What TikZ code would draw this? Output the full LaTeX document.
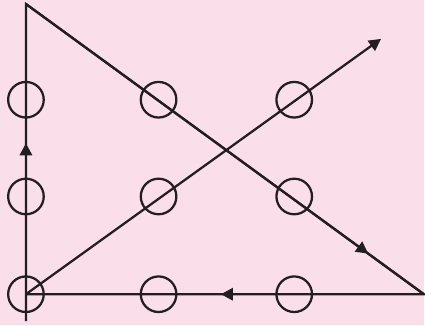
\documentclass[tikz,border=0pt]{standalone}
\usepackage{xcolor}
\definecolor{puzbg}{HTML}{FADEEA}
\definecolor{puzink}{HTML}{231F20}
\usetikzlibrary{arrows.meta,decorations.markings}
\tikzset{
  puzdot/.style={draw=puzink,circle,line width=0.068cm,minimum size=1.07cm,inner sep=0pt},
  puzline/.style={draw=puzink,line width=0.068cm,line join=miter},
  puzhead/.style={-{Triangle[length=3.6mm,width=3.7mm]}},
  puzmid/.style={postaction={decorate},decoration={markings,mark=at position #1 with {\arrow{Triangle[length=3.6mm,width=3.7mm]}}}},
}
\begin{document}
\begin{tikzpicture}[x=0.03cm,y=-0.03cm]
\fill[puzbg] (0,0) rectangle (425,326);
% nine dots
\foreach \i/\x in {1/26,2/159,3/295}
  \foreach \j/\y in {1/100,2/197,3/295}
    \node[puzdot] (d\i\j) at (\x,\y) {};
\coordinate (tl) at (26,4);
\coordinate (br) at (425,295);
\coordinate (bot) at (26,322);
\coordinate (tip) at (382,39);
% the four strokes
\draw[puzline] (bot) -- (tl) -- (br) -- (d13.center);
\draw[puzline,puzmid=0.52] (d13.center) -- (tl);
\draw[puzline,puzmid=0.86] (tl) -- (br);
\draw[puzline,puzmid=0.51] (br) -- (d13.center);
\draw[puzline,puzhead] (d13.center) -- (tip);
\end{tikzpicture}
\end{document}
